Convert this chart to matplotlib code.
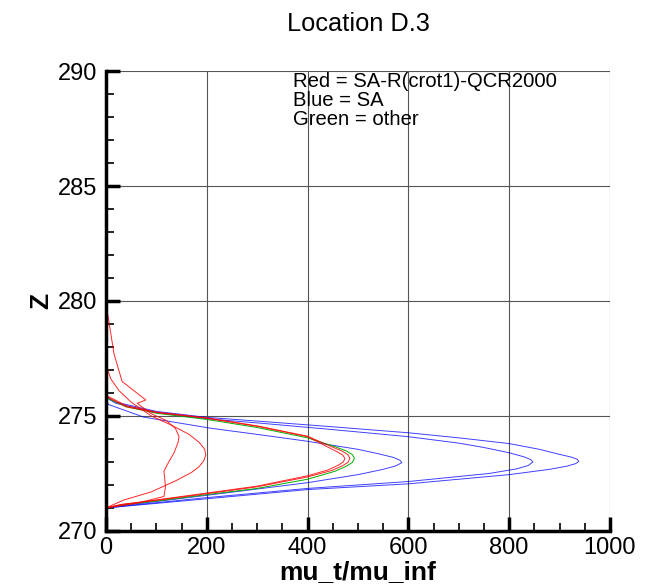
import matplotlib.pyplot as plt
from matplotlib.ticker import MultipleLocator

plt.rcParams['font.family'] = ['Liberation Sans', 'DejaVu Sans']

# read-off profiles: (mu_t/mu_inf, z) pairs, bottom -> peak -> top
blue1_x = [0, 50, 200, 400, 600, 800, 880, 915, 932, 938, 935, 922, 900, 860, 800, 700, 600, 444, 300, 200, 100, 20, 0]
blue1_z = [271.0, 271.1, 271.4, 271.8, 272.05, 272.45, 272.68, 272.82, 272.93, 273.02, 273.12, 273.22, 273.33, 273.55, 273.8, 274.05, 274.27, 274.54, 274.78, 274.94, 275.2, 275.6, 275.85]
blue2_x = [0, 50, 200, 400, 600, 760, 815, 838, 847, 843, 830, 800, 750, 700, 600, 444, 300, 200, 100, 20, 0]
blue2_z = [271.0, 271.12, 271.45, 271.85, 272.15, 272.5, 272.7, 272.85, 273.0, 273.1, 273.22, 273.4, 273.63, 273.82, 274.1, 274.42, 274.7, 274.88, 275.15, 275.55, 275.8]
blue3_x = [0, 50, 200, 400, 500, 550, 575, 587, 583, 570, 540, 500, 400, 300, 207, 75, 5, 0]
blue3_z = [271.0, 271.15, 271.55, 272.1, 272.45, 272.68, 272.83, 272.97, 273.08, 273.2, 273.36, 273.55, 273.9, 274.2, 274.47, 274.95, 275.5, 275.75]
red1_x = [0, 30, 100, 200, 300, 400, 440, 460, 471, 474, 470, 458, 440, 400, 300, 200, 100, 40, 0]
red1_z = [271.0, 271.15, 271.35, 271.65, 271.95, 272.4, 272.65, 272.85, 273.0, 273.15, 273.3, 273.45, 273.65, 274.1, 274.55, 274.9, 275.15, 275.4, 275.85]
red2_x = [0, 30, 100, 200, 300, 400, 448, 468, 480, 484, 480, 468, 448, 400, 300, 200, 100, 40, 0]
red2_z = [271.0, 271.15, 271.33, 271.62, 271.92, 272.35, 272.63, 272.82, 272.98, 273.15, 273.32, 273.48, 273.66, 274.12, 274.57, 274.92, 275.17, 275.45, 275.9]
green_x = [0, 30, 100, 200, 300, 400, 455, 477, 489, 493, 489, 477, 455, 400, 300, 200, 100, 40, 0]
green_z = [271.0, 271.13, 271.3, 271.58, 271.85, 272.25, 272.6, 272.82, 272.98, 273.15, 273.32, 273.48, 273.66, 274.05, 274.5, 274.85, 275.12, 275.4, 275.8]
redA_x = [0, 10, 26, 50, 90, 130, 165, 185, 196, 198, 194, 185, 170, 140, 90, 36, 10, 0]
redA_z = [277.2, 276.6, 276.1, 275.6, 275.0, 274.6, 274.2, 273.85, 273.55, 273.3, 273.05, 272.8, 272.55, 272.2, 271.7, 271.35, 271.1, 271.0]
redB_x = [0, 8, 16, 32, 79, 62, 90, 120, 138, 145, 143, 135, 122, 115, 117, 118, 115, 60, 0]
redB_z = [279.9, 278.8, 277.7, 276.5, 275.7, 275.55, 275.1, 274.8, 274.45, 274.1, 273.85, 273.4, 272.9, 272.6, 272.2, 271.9, 271.5, 271.2, 271.0]

fig = plt.figure(figsize=(6.59, 5.86), dpi=100)
ax = fig.add_axes([0.1608, 0.0939, 0.7648, 0.7849])

for xs, zs in [(blue1_x, blue1_z), (blue2_x, blue2_z), (blue3_x, blue3_z)]:
    ax.plot(xs, zs, color='#0000ff', lw=0.7, alpha=0.75)
ax.plot(green_x, green_z, color='#00b000', lw=0.7)
for xs, zs in [(red1_x, red1_z), (red2_x, red2_z), (redA_x, redA_z), (redB_x, redB_z)]:
    ax.plot(xs, zs, color='#ff0000', lw=0.7, alpha=0.85)

ax.set_xlim(0, 1000)
ax.set_ylim(270, 290)
ax.xaxis.set_major_locator(MultipleLocator(200))
ax.xaxis.set_minor_locator(MultipleLocator(50))
ax.yaxis.set_major_locator(MultipleLocator(5))
ax.yaxis.set_minor_locator(MultipleLocator(1))
ax.grid(True, which='major', color='#555555', lw=0.8)
ax.set_axisbelow(True)
for s in ['top', 'right']:
    ax.spines[s].set_visible(False)
for s in ['left', 'bottom']:
    ax.spines[s].set_linewidth(2.5)
ax.tick_params(which='major', direction='in', length=10, width=2.5, labelsize=17)
ax.tick_params(which='minor', direction='in', length=6, width=1.2)
ax.tick_params(axis='y', which='major', pad=6)
ax.tick_params(axis='x', which='major', pad=4.5)

ax.set_xlabel('mu_t/mu_inf', fontsize=19, fontweight='bold')
ax.xaxis.label.set_va('baseline')
ax.xaxis.set_label_coords(0.5, -0.104)
ax.set_ylabel('Z', fontsize=19, fontweight='bold')
ax.yaxis.set_label_coords(-0.105, 0.5)
fig.text(0.5433, 1 - 31 / 586, 'Location D.3', fontsize=18.3, ha='center', va='baseline')

ax.text(0.372, 0.997, 'Red = SA-R(crot1)-QCR2000\nBlue = SA\nGreen = other',
        transform=ax.transAxes, fontsize=14.6, va='top', ha='left', linespacing=1.0)

fig.savefig('out.png', dpi=100)
